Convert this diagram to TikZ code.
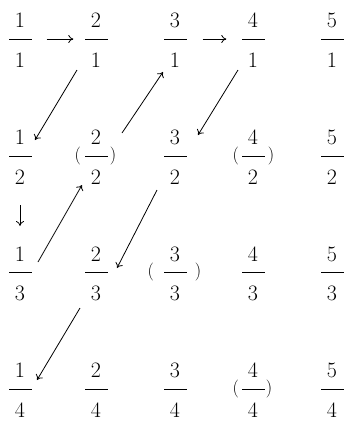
\documentclass[tikz,border=0pt]{standalone}
\usetikzlibrary{positioning,calc,arrows.meta}
\begin{document}
\begin{tikzpicture}[x=1pt,y=-1pt,
  num/.style={font=\fontsize{22}{26}\selectfont,inner sep=0pt},
  fbar/.style={fill=black,minimum width=23pt,minimum height=0.9pt,inner sep=0pt},
  par/.style={font=\fontsize{18}{21}\selectfont,inner sep=0pt},
  arr/.style={line width=0.8pt,-{To[length=5pt,width=8pt]}}]
\useasboundingbox (0,0) rectangle (347,421);
\node[num] (n11) at (20,20) {1};
\node[fbar] (b11) at (20,39) {};
\node[num] (d11) at (20,60) {1};
\node[num] (n21) at (96,20) {2};
\node[fbar] (b21) at (96,39) {};
\node[num] (d21) at (96,60) {1};
\node[num] (n31) at (175,20) {3};
\node[fbar] (b31) at (175,39) {};
\node[num] (d31) at (175,60) {1};
\node[num] (n41) at (253,20) {4};
\node[fbar] (b41) at (253,39) {};
\node[num] (d41) at (253,60) {1};
\node[num] (n51) at (332,20) {5};
\node[fbar] (b51) at (332,39) {};
\node[num] (d51) at (332,60) {1};
\node[num] (n12) at (20,137) {1};
\node[fbar] (b12) at (20,156) {};
\node[num] (d12) at (20,177) {2};
\node[num] (n22) at (96,137) {2};
\node[fbar] (b22) at (96,156) {};
\node[num] (d22) at (96,177) {2};
\node[num] (n32) at (175,137) {3};
\node[fbar] (b32) at (175,156) {};
\node[num] (d32) at (175,177) {2};
\node[num] (n42) at (253,137) {4};
\node[fbar] (b42) at (253,156) {};
\node[num] (d42) at (253,177) {2};
\node[num] (n52) at (332,137) {5};
\node[fbar] (b52) at (332,156) {};
\node[num] (d52) at (332,177) {2};
\node[num] (n13) at (20,254) {1};
\node[fbar] (b13) at (20,272) {};
\node[num] (d13) at (20,293) {3};
\node[num] (n23) at (96,254) {2};
\node[fbar] (b23) at (96,272) {};
\node[num] (d23) at (96,293) {3};
\node[num] (n33) at (175,254) {3};
\node[fbar] (b33) at (175,272) {};
\node[num] (d33) at (175,293) {3};
\node[num] (n43) at (253,254) {4};
\node[fbar] (b43) at (253,272) {};
\node[num] (d43) at (253,293) {3};
\node[num] (n53) at (332,254) {5};
\node[fbar] (b53) at (332,272) {};
\node[num] (d53) at (332,293) {3};
\node[num] (n14) at (20,370) {1};
\node[fbar] (b14) at (20,389) {};
\node[num] (d14) at (20,410) {4};
\node[num] (n24) at (96,370) {2};
\node[fbar] (b24) at (96,389) {};
\node[num] (d24) at (96,410) {4};
\node[num] (n34) at (175,370) {3};
\node[fbar] (b34) at (175,389) {};
\node[num] (d34) at (175,410) {4};
\node[num] (n44) at (253,370) {4};
\node[fbar] (b44) at (253,389) {};
\node[num] (d44) at (253,410) {4};
\node[num] (n54) at (332,370) {5};
\node[fbar] (b54) at (332,389) {};
\node[num] (d54) at (332,410) {4};
\node[par,left=3pt of b22] (l22) {(};
\node[par,right=2pt of b22] (r22) {)};
\node[par,left=2pt of b42] (l42) {(};
\node[par,right=3pt of b42] (r42) {)};
\node[par,left=9pt of b33] (l33) {(};
\node[par,right=8pt of b33] (r33) {)};
\node[par,left=2pt of b44] (l44) {(};
\node[par,right=1pt of b44] (r44) {)};
\draw[arr,shorten <=15pt,shorten >=11pt] (b11.east) -- (b21.west);
\draw[arr] ($(d21)+(-19,10)$) -- ($(n12)+(15,3)$);
\draw[arr] ($(d12)+(0,28)$) -- ($(n13)+(0,-28)$);
\draw[arr] ($(n13)+(18,8)$) -- ($(d22)+(-14,8)$);
\draw[arr] ($(n22)+(26,-4)$) -- ($(d31)+(-12,12)$);
\draw[arr,shorten <=16pt,shorten >=15pt] (b31.east) -- (b41.west);
\draw[arr] ($(d41)+(-15,10)$) -- ($(n32)+(23,-2)$);
\draw[arr] ($(d32)+(-18,13)$) -- ($(n23)+(21,14)$);
\draw[arr] ($(d23)+(-16,15)$) -- ($(n14)+(17,10)$);
\end{tikzpicture}
\end{document}
